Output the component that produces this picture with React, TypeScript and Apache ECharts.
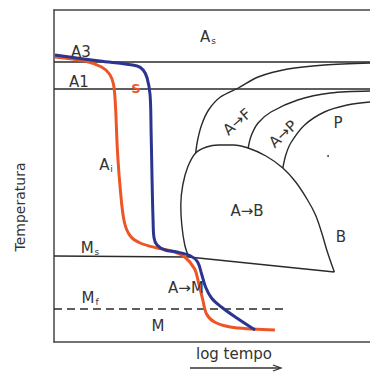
import React, { useEffect, useRef } from "react";
import * as echarts from "echarts";

// Arbitrary units: x = log time, y = temperature
const X_MAX = 319;
const Y_MAX = 332;

const a3Line: number[][] = [[0, 280], [X_MAX, 280]];
const a1Line: number[][] = [[0, 253], [X_MAX, 253]];
const msLine: number[][] = [[0, 86], [136, 85]];
const mfLine: number[][] = [[0, 33], [233, 33]];

const ferriteStart: number[][] = [
  [143, 189], [145, 202], [149, 217], [156, 232], [168, 245], [186, 254],
  [206, 265], [236, 273], [273, 277], [319, 279],
];
const pearliteStart: number[][] = [
  [196, 194], [199, 206], [206, 219], [219, 230], [246, 242], [279, 249], [319, 251],
];
const pearliteEnd: number[][] = [
  [231, 174], [234, 187], [239, 199], [253, 217], [273, 230], [296, 237], [319, 240],
];
const bainiteUpper: number[][] = [
  [136, 85], [132, 97], [129, 117], [128, 137], [130, 157], [135, 175], [143, 189],
  [154, 195], [166, 197], [181, 197], [196, 194], [214, 186], [231, 174],
  [244, 160], [256, 142], [264, 127], [270, 110], [276, 90], [283, 70],
];
const bainiteLower: number[][] = [[136, 85], [283, 70]];
const coolingFast: number[][] = [
  [1, 285], [31, 281], [48, 275], [56, 268], [60, 258], [62, 237], [64, 192],
  [67, 152], [71, 120], [77, 106], [87, 99], [104, 94], [119, 91], [132, 85],
  [142, 73], [146, 59], [150, 43], [154, 28], [162, 20], [178, 15], [201, 13], [223, 12],
];
const coolingSlow: number[][] = [
  [1, 287], [46, 281], [84, 276], [90, 272], [94, 264], [97, 247], [98, 212],
  [99, 162], [100, 122], [101, 104], [104, 97], [112, 92], [124, 90], [138, 86],
  [145, 80], [149, 68], [153, 55], [159, 44], [169, 35], [183, 25], [203, 12],
];

const labels = [
  { t: "{m|A}{s|s}", x: 208, y: 37 },
  { t: "A3", x: 81, y: 52 },
  { t: "A1", x: 79, y: 82 },
  { t: "{m|A}{s|i}", x: 106, y: 165 },
  { t: "A→F", x: 237, y: 122, r: 0.72 },
  { t: "A→P", x: 283, y: 134, r: 0.75 },
  { t: "P", x: 338, y: 123 },
  { t: "A→B", x: 247, y: 211 },
  { t: "B", x: 341, y: 237 },
  { t: "{m|M}{s|s}", x: 90, y: 248 },
  { t: "{m|M}{s|f}", x: 90, y: 298 },
  { t: "A→M", x: 186, y: 288 },
  { t: "M", x: 158, y: 326 },
];

export default function App() {
  const ref = useRef<HTMLDivElement>(null);
  useEffect(() => {
    if (!ref.current) return;
    const chart = echarts.init(ref.current, undefined, { renderer: "svg" });
    const black = "#2a2a2a";
    const frame = { show: true, onZero: false, lineStyle: { color: "#444", width: 1.5 } };
    const hidden = {
      axisTick: { show: false }, axisLabel: { show: false }, splitLine: { show: false },
    };
    const thin = (name: string, data: number[][], extra: any = {}) => ({
      name,
      type: "line",
      data,
      showSymbol: false,
      symbol: "none",
      smooth: extra.smooth ?? 0.3,
      lineStyle: { color: black, width: 1.4, type: extra.type ?? "solid" },
      z: 2,
    });
    const rich = {
      m: { fontSize: 15, color: "#333", fontFamily: "DejaVu Sans" },
      s: { fontSize: 9, color: "#333", fontFamily: "DejaVu Sans", padding: [8, 0, 0, 1] },
    };
    chart.setOption({
      animation: false,
      grid: { left: 54, right: 0, top: 10, bottom: 38 },
      xAxis: [
        { type: "value", min: 0, max: X_MAX, position: "bottom", axisLine: frame, ...hidden },
        { type: "value", min: 0, max: X_MAX, position: "top", axisLine: frame, ...hidden },
      ],
      yAxis: {
        type: "value", min: 0, max: Y_MAX, position: "left", axisLine: frame, ...hidden,
      },
      series: [
        thin("A3", a3Line, { smooth: false }),
        thin("A1", a1Line, { smooth: false }),
        thin("Ms", msLine, { smooth: false }),
        thin("Mf", mfLine, { smooth: false, type: [8, 5] }),
        thin("A→F", ferriteStart),
        thin("A→P", pearliteStart),
        thin("P", pearliteEnd),
        { ...thin("A→B", bainiteUpper), smooth: 0.35 },
        thin("B base", bainiteLower, { smooth: false }),
        {
          name: "orange", type: "line", data: coolingFast, showSymbol: false, symbol: "none",
          smooth: 0.35, lineStyle: { color: "#ef5424", width: 3 }, z: 3,
        },
        {
          name: "blue", type: "line", data: coolingSlow, showSymbol: false, symbol: "none",
          smooth: 0.35, lineStyle: { color: "#2b358f", width: 3 }, z: 4,
        },
      ],
      graphic: [
        ...labels.map((l) => ({
          type: "text",
          x: l.x,
          y: l.y,
          rotation: l.r ?? 0,
          style: {
            text: l.t,
            rich,
            fontSize: 15,
            fontFamily: "DejaVu Sans",
            fill: "#333",
            align: "center",
            verticalAlign: "middle",
          },
          z: 10,
        })),
        {
          type: "text", x: 136, y: 88,
          style: { text: "S", fontSize: 13, fontWeight: "bold", fontFamily: "DejaVu Sans", fill: "#ef5424", align: "center", verticalAlign: "middle" },
          z: 10,
        },
        { type: "circle", shape: { cx: 328, cy: 156, r: 1 }, style: { fill: "#555" } },
        {
          type: "text", x: 20, y: 207, rotation: Math.PI / 2,
          style: { text: "Temperatura", fontSize: 14, fontFamily: "DejaVu Sans", fill: "#333", align: "center", verticalAlign: "middle" },
        },
        {
          type: "text", x: 234, y: 354,
          style: { text: "log tempo", fontSize: 15, fontFamily: "DejaVu Sans", fill: "#333", align: "center", verticalAlign: "middle" },
        },
        { type: "line", shape: { x1: 190, y1: 368, x2: 280, y2: 368 }, style: { stroke: "#333", lineWidth: 1.3 } },
        { type: "polyline", shape: { points: [[273, 365], [281, 368], [273, 371]] }, style: { stroke: "#333", lineWidth: 1.3, fill: "none" } },
      ],
    });
    return () => chart.dispose();
  }, []);
  return (
    <div
      ref={ref}
      style={{ position: "absolute", left: 0, top: 0, width: 370, height: 380, background: "#fff" }}
    />
  );
}
